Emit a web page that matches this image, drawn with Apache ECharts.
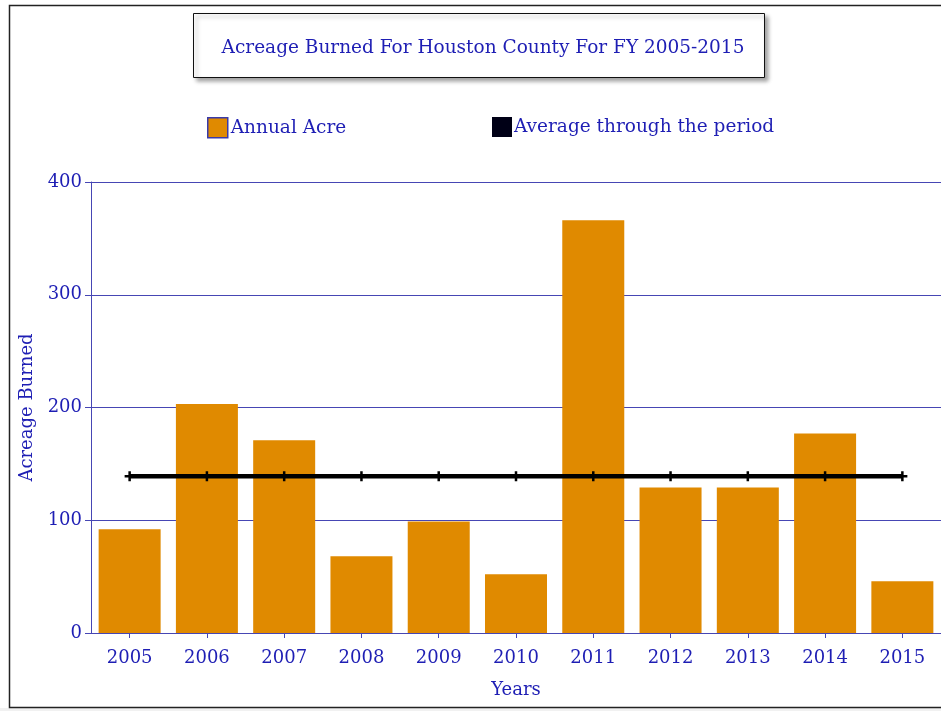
<!DOCTYPE html>
<html>
<head>
<meta charset="utf-8">
<script src="https://cdn.jsdelivr.net/npm/echarts@6/dist/echarts.min.js"></script>
<style>
html,body{margin:0;padding:0;background:#fff;}
#chart{width:941px;height:711px;}
</style>
</head>
<body>
<div id="chart"></div>
<script>
var titleText = 'Acreage Burned For Houston County For FY 2005-2015';
var years = ['2005','2006','2007','2008','2009','2010','2011','2012','2013','2014','2015'];
var annualAcre = [92, 203, 171, 68, 99, 52, 366, 129, 129, 177, 46];
var averageAcre = [139, 139, 139, 139, 139, 139, 139, 139, 139, 139, 139];
var yTicks = { min: 0, max: 400, interval: 100 };
var seriesNames = ['Annual Acre', 'Average through the period'];

var FONT = 'DejaVu Serif';
var BLUE = '#1e1eb4';
var GRID = '#4646b4';

var chart = echarts.init(document.getElementById('chart'));
chart.setOption({
  animation: false,
  backgroundColor: '#ffffff',
  textStyle: { fontFamily: FONT },
  graphic: [
    { type: 'rect', shape: { x: 0, y: 708, width: 941, height: 3 }, style: { fill: '#f1f1f1' }, silent: true },
    { type: 'rect', shape: { x: 9.5, y: 5.5, width: 940, height: 702 }, style: { fill: null, stroke: '#222', lineWidth: 1.5 }, silent: true },
    { type: 'rect', shape: { x: 193.5, y: 13.5, width: 571, height: 64 },
      style: { fill: '#ffffff', stroke: '#111', lineWidth: 1, shadowBlur: 4, shadowOffsetX: 3, shadowOffsetY: 3, shadowColor: 'rgba(0,0,0,0.35)' },
      silent: true, z: 0 }
  ],
  title: {
    text: titleText,
    left: 478, top: 34, textAlign: 'center',
    textStyle: { fontFamily: FONT, fontSize: 18.5, fontWeight: 'normal', color: BLUE },
    z: 10
  },
  legend: [
    {
      left: 202, top: 112, itemWidth: 20, itemHeight: 20, itemGap: 0,
      textStyle: { fontFamily: FONT, fontSize: 18.5, color: BLUE, padding: [0,0,0,-2] },
      data: [{ name: seriesNames[0], icon: 'rect', itemStyle: { color: '#E08A00', borderColor: '#3a3aa8', borderWidth: 1.5 } }]
    },
    {
      left: 487, top: 112, itemWidth: 20, itemHeight: 20, itemGap: 0,
      textStyle: { fontFamily: FONT, fontSize: 18.5, color: BLUE, padding: [0,0,0,-3] },
      data: [{ name: seriesNames[1], icon: 'rect', itemStyle: { color: '#000016', borderWidth: 0 } }]
    }
  ],
  grid: { left: 91, right: -2.5, top: 182, bottom: 78, containLabel: false },
  xAxis: {
    type: 'category',
    data: years,
    name: 'Years',
    nameLocation: 'middle',
    nameGap: 48,
    nameTextStyle: { fontFamily: FONT, fontSize: 18, color: BLUE },
    axisLine: { show: true, lineStyle: { color: GRID, width: 1 } },
    axisTick: { show: true, alignWithLabel: true, length: 5, lineStyle: { color: GRID } },
    axisLabel: { fontFamily: FONT, fontSize: 18, color: BLUE, margin: 16 }
  },
  yAxis: {
    type: 'value',
    min: yTicks.min, max: yTicks.max, interval: yTicks.interval,
    name: 'Acreage Burned',
    nameLocation: 'middle',
    nameGap: 47,
    nameRotate: 90,
    nameTextStyle: { fontFamily: FONT, fontSize: 18, color: BLUE },
    axisLine: { show: true, lineStyle: { color: GRID, width: 1 } },
    axisTick: { show: true, length: 6, lineStyle: { color: GRID } },
    axisLabel: { fontFamily: FONT, fontSize: 18, color: BLUE, margin: 9 },
    splitLine: { show: true, lineStyle: { color: GRID, width: 1 } }
  },
  series: [
    {
      name: seriesNames[0],
      type: 'bar',
      data: annualAcre,
      barWidth: 62,
      itemStyle: { color: '#E08A00' },
      z: 2
    },
    {
      name: seriesNames[1],
      type: 'line',
      data: averageAcre,
      lineStyle: { color: '#000000', width: 4.5 },
      itemStyle: { color: '#000000' },
      symbol: 'path://M3,0H5V3H8V5H5V8H3V5H0V3H3Z',
      symbolSize: 10,
      showSymbol: true,
      z: 5
    }
  ]
});
</script>
</body>
</html>
